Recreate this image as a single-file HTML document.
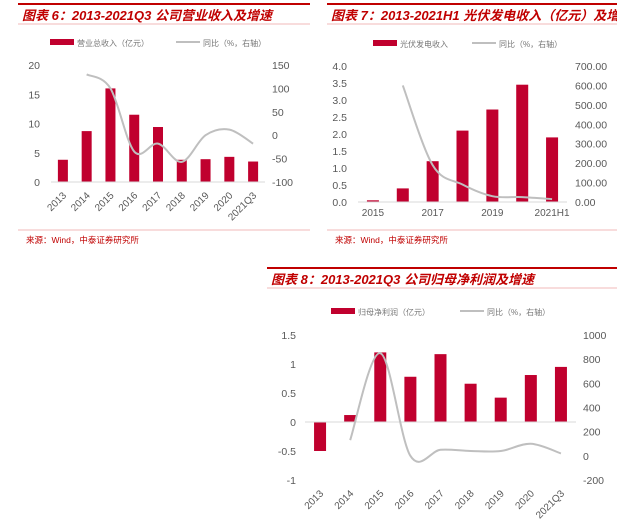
<!DOCTYPE html>
<html><head><meta charset="utf-8">
<style>
body{margin:0;background:#fff;width:617px;height:520px;overflow:hidden;font-family:"Liberation Sans","Noto Sans CJK SC",sans-serif;}
svg{position:absolute;left:0;top:0}
</style></head>
<body>
<svg id="s" width="617" height="520" xmlns="http://www.w3.org/2000/svg" font-family="Liberation Sans, Noto Sans CJK SC, sans-serif">
</svg>
<script>
// Chart 1 data
const c1Cats=["2013","2014","2015","2016","2017","2018","2019","2020","2021Q3"];
const c1Bars=[3.8,8.7,16,11.5,9.4,3.8,3.9,4.3,3.5];
const c1Line=[null,130,100,-35,-18,-57,0,12,-18];
const c1LeftTicks=[0,5,10,15,20];
const c1RightTicks=[-100,-50,0,50,100,150];
// Chart 2 data
const c2Cats=["2015","2016","2017","2018","2019","2020","2021H1"];
const c2Labels=["2015","","2017","","2019","","2021H1"];
const c2Bars=[0.05,0.4,1.2,2.1,2.72,3.45,1.9];
const c2Line=[null,600,190,90,30,25,15];
const c2LeftTicks=[0,0.5,1,1.5,2,2.5,3,3.5,4];
const c2RightTicks=[0,100,200,300,400,500,600,700];
// Chart 3 data
const c3Cats=["2013","2014","2015","2016","2017","2018","2019","2020","2021Q3"];
const c3Bars=[-0.5,0.12,1.2,0.78,1.17,0.66,0.42,0.81,0.95];
const c3Line=[null,130,850,0,50,40,40,100,20];
const c3LeftTicks=[-1,-0.5,0,0.5,1,1.5];
const c3RightTicks=[-200,0,200,400,600,800,1000];

const S=document.getElementById('s');const NS="http://www.w3.org/2000/svg";
function mk(t,a,p){const e=document.createElementNS(NS,t);for(const k in a)e.setAttribute(k,a[k]);(p||S).appendChild(e);return e;}
function txt(x,y,s,a){const e=mk('text',Object.assign({x:x,y:y,'font-size':10,fill:'#595959'},a||{}));e.textContent=s;return e;}
function smooth(pts){let d="M"+pts[0][0]+","+pts[0][1];for(let i=0;i<pts.length-1;i++){const p0=pts[i-1]||pts[i],p1=pts[i],p2=pts[i+1],p3=pts[i+2]||p2;
d+=" C"+(p1[0]+(p2[0]-p0[0])/6)+","+(p1[1]+(p2[1]-p0[1])/6)+" "+(p2[0]-(p3[0]-p1[0])/6)+","+(p2[1]-(p3[1]-p1[1])/6)+" "+p2[0]+","+p2[1];}return d;}

function header(x1,x2,y,title,name){
 let l=mk('line',{x1:x1,x2:x2,y1:y,y2:y,stroke:'#c00000','stroke-width':2});
 
 let t=txt(x1+4,y+16,title,{fill:'#c00000','font-size':13,'font-weight':'bold','font-style':'italic'});
 
 let l2=mk('line',{x1:x1,x2:x2,y1:y+20,y2:y+20,stroke:'#f2b8b8','stroke-width':1});
 
}
function legend(x,y,barLbl,lineX,lineLbl,name){
 let g=mk('g',{});
 mk('rect',{x:x,y:y-4,width:24,height:6,fill:'#c0002e'},g);
 txt(x+27,y+3,barLbl,{'font-size':8,fill:'#777'}).remove();
 let t=mk('text',{x:x+27,y:y+3,'font-size':8,fill:'#777'},g);t.textContent=barLbl;
 mk('line',{x1:lineX,x2:lineX+24,y1:y-1,y2:y-1,stroke:'#bfbfbf','stroke-width':2},g);
 let t2=mk('text',{x:lineX+27,y:y+3,'font-size':8,fill:'#777'},g);t2.textContent=lineLbl;
}
function chart(o){
 const ly=v=>o.y0-(v-o.lmin)/(o.lmax-o.lmin)*(o.y0-o.y1);
 const ry=v=>o.y0-(v-o.rmin)/(o.rmax-o.rmin)*(o.y0-o.y1);
 const n=o.cats.length,step=(o.px2-o.px1)/n;const cx=i=>o.px1+step*(i+0.5);
 const g=mk('g',{});
 o.lt.forEach(v=>{let t=mk('text',{x:o.lx,y:ly(v)+4,'font-size':10.5,fill:'#595959','text-anchor':'end'},g);t.textContent=o.fmtL(v);
  });
 o.rt.forEach(v=>{let t=mk('text',{x:o.rx,y:ry(v)+4,'font-size':10.5,fill:'#595959'},g);t.textContent=o.fmtR(v);
  });
 o.bars.forEach((v,i)=>{const y0=ly(0),y=ly(v);let r=mk('rect',{x:cx(i)-o.bw/2,y:Math.min(y0,y),width:o.bw,height:Math.abs(y-y0),fill:'#c0002e'},g);
  });
 let ax=mk('line',{x1:o.px1,x2:o.px2,y1:ly(0),y2:ly(0),stroke:'#d9d9d9','stroke-width':1},g);
 
 const pts=[];o.line.forEach((v,i)=>{if(v!==null)pts.push([cx(i),ry(v)]);});
 let p=mk('path',{d:smooth(pts),fill:'none',stroke:'#bfbfbf','stroke-width':2},g);
 
 o.labels.forEach((s,i)=>{if(!s)return;let t;
  if(o.rot){t=mk('text',{x:cx(i)+4,y:o.xly,'font-size':10,fill:'#595959','text-anchor':'end',transform:'rotate(-45 '+(cx(i)+4)+' '+o.xly+')'},g);}
  else{t=mk('text',{x:cx(i),y:o.xly,'font-size':10,fill:'#595959','text-anchor':'middle'},g);}
  t.textContent=s;});
}
function source(x1,x2,y,name){
 let l=mk('line',{x1:x1,x2:x2,y1:y,y2:y,stroke:'#f2b8b8','stroke-width':1});
 
 let t=txt(x1+8,y+13,"来源：Wind，中泰证券研究所",{fill:'#c00000','font-size':8.5});
 
}
// Chart 1
header(18,310,4,"图表 6：2013-2021Q3 公司营业收入及增速","chart6");
legend(50,43,"营业总收入（亿元）",176,"同比（%，右轴）","chart6");
chart({name:'chart6',cats:c1Cats,labels:c1Cats,bars:c1Bars,line:c1Line,lt:c1LeftTicks,rt:c1RightTicks,
 lmin:0,lmax:20,rmin:-100,rmax:150,y0:182,y1:65,px1:51,px2:265,bw:10,lx:40,rx:272,xly:196,rot:true,
 fmtL:v=>String(v),fmtR:v=>String(v)});
source(18,310,230,"chart6");
// Chart 2
header(327,617,4,"图表 7：2013-2021H1 光伏发电收入（亿元）及增速","chart7");
legend(373,44,"光伏发电收入",472,"同比（%，右轴）","chart7");
chart({name:'chart7',cats:c2Cats,labels:c2Labels,bars:c2Bars,line:c2Line,lt:c2LeftTicks,rt:c2RightTicks,
 lmin:0,lmax:4,rmin:0,rmax:700,y0:202,y1:66,px1:358,px2:567,bw:12,lx:347,rx:575,xly:216,rot:false,
 fmtL:v=>v.toFixed(1),fmtR:v=>v.toFixed(2)});
source(327,617,230,"chart7");
// Chart 3
header(267,617,268,"图表 8：2013-2021Q3 公司归母净利润及增速","chart8");
legend(331,312,"归母净利润（亿元）",460,"同比（%，右轴）","chart8");
chart({name:'chart8',cats:c3Cats,labels:c3Cats,bars:c3Bars,line:c3Line,lt:c3LeftTicks,rt:c3RightTicks,
 lmin:-1,lmax:1.5,rmin:-200,rmax:1000,y0:480,y1:335,px1:305,px2:576,bw:12,lx:296,rx:583,xly:494,rot:true,
 fmtL:v=>String(v),fmtR:v=>String(v)});
// fix chart3 x-axis at 0 handled in chart(); left tick values already placed
</script>
</body></html>
